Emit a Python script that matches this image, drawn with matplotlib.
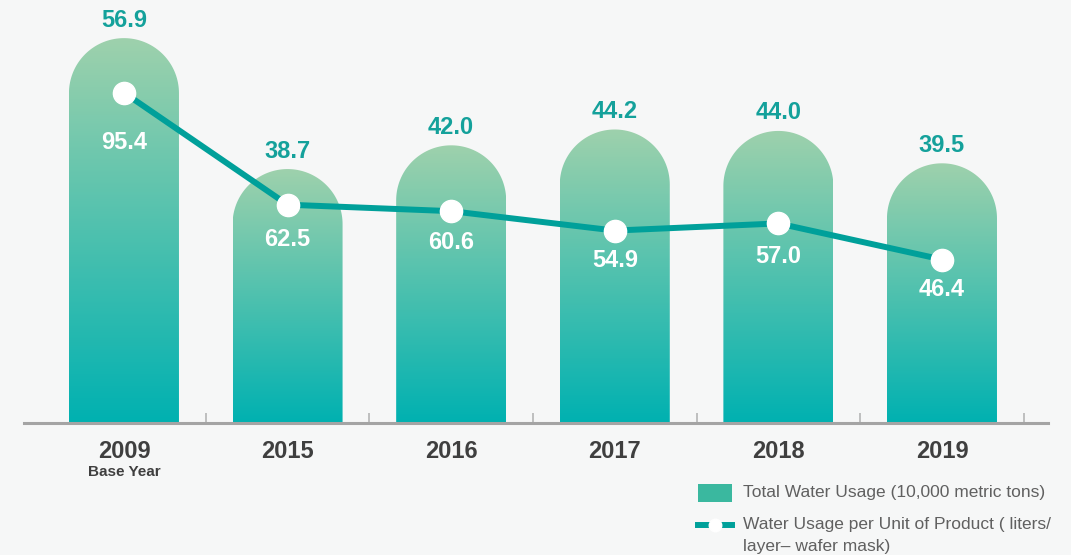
import numpy as np
import matplotlib
matplotlib.use('Agg')
import matplotlib.pyplot as plt
from matplotlib.path import Path
from matplotlib.patches import PathPatch, Rectangle
from matplotlib.lines import Line2D
from matplotlib.colors import LinearSegmentedColormap
from matplotlib.transforms import blended_transform_factory

# ---------------- data ----------------
years = ['2009', '2015', '2016', '2017', '2018', '2019']
total_usage = [56.9, 38.7, 42.0, 44.2, 44.0, 39.5]      # 10,000 metric tons
unit_usage = [95.4, 62.5, 60.6, 54.9, 57.0, 46.4]       # liters / layer-wafer mask
base_year_note = 'Base Year'
legend_labels = ['Total Water Usage (10,000 metric tons)',
                 'Water Usage per Unit of Product ( liters/',
                 'layer\u2013 wafer mask)']

# ---------------- style ----------------
plt.rcParams['font.family'] = ['Liberation Sans', 'DejaVu Sans']
W, H = 1071, 555
bg = '#f6f7f7'
teal_line = '#00a09a'
teal_text = '#14a19b'
year_color = '#3f3f3f'
legend_text = '#606060'
axis_gray = '#a4a4a4'
grad_top = '#9ed1ac'
grad_bot = '#00b1b1'
label_dy_px = [50, 35, 31, 30, 33, 30]   # white label offsets below points

fig = plt.figure(figsize=(W / 100, H / 100), dpi=100)
fig.patch.set_facecolor(bg)

ax_bottom_px = 423
ax = fig.add_axes([24 / W, 1 - ax_bottom_px / H, 1024 / W, ax_bottom_px / H])
ax.set_facecolor('none')
x = np.arange(len(years))
xlim = (-0.611, 5.648)
ylim = (3.4, 62.2)
ax.set_xlim(*xlim)
ax.set_ylim(*ylim)

# pixel scales
px_per_x = 1024 / (xlim[1] - xlim[0])
px_per_y = ax_bottom_px / (ylim[1] - ylim[0])
bw = 110 / px_per_x
rx = bw / 2
ry = (rx * px_per_x) / px_per_y

cmap = LinearSegmentedColormap.from_list('g', [grad_top, grad_bot])
grad = np.linspace(0, 1, 256).reshape(-1, 1)

for xi, v in zip(x, total_usage):
    x0, x1 = xi - rx, xi + rx
    yc = v - ry
    th = np.linspace(np.pi, 0, 80)
    verts = [(x0, ylim[0])] + [(xi + rx * np.cos(t), yc + ry * np.sin(t)) for t in th] + [(x1, ylim[0]), (x0, ylim[0])]
    codes = [Path.MOVETO] + [Path.LINETO] * (len(verts) - 2) + [Path.CLOSEPOLY]
    patch = PathPatch(Path(verts, codes), facecolor='none', edgecolor='none')
    ax.add_patch(patch)
    im = ax.imshow(grad, extent=[x0, x1, ylim[0], v], cmap=cmap, aspect='auto',
                   origin='upper', interpolation='bilinear', zorder=2)
    im.set_clip_path(patch)
    ax.annotate(f'{v:.1f}', xy=(xi, v), xytext=(0, 18 * 0.72), textcoords='offset points',
                ha='center', va='center', fontsize=17, fontweight='bold', color=teal_text)

ax.set_xlim(*xlim)
ax.set_ylim(*ylim)

for s in ['top', 'left', 'right']:
    ax.spines[s].set_visible(False)
ax.spines['bottom'].set_color(axis_gray)
ax.spines['bottom'].set_linewidth(2.2)
ax.set_yticks([])
ax.set_xticks(np.arange(len(years)) + 0.5)
ax.tick_params(axis='x', direction='in', length=7.5, width=1.2, colors='#b5b5b5', labelbottom=False)

trans = blended_transform_factory(ax.transData, ax.transAxes)
for xi, yr in zip(x, years):
    ax.annotate(yr, xy=(xi, 0), xycoords=trans, xytext=(0, -28 * 0.72), textcoords='offset points',
                ha='center', va='center', fontsize=17, fontweight='bold', color=year_color)
ax.annotate(base_year_note, xy=(x[0], 0), xycoords=trans, xytext=(0, -49 * 0.72), textcoords='offset points',
            ha='center', va='center', fontsize=11, fontweight='bold', color=year_color)

# secondary axis for the line
ax2 = ax.twinx()
ax2.set_ylim(-1.6, 122.6)
ax2.set_xlim(*xlim)
ax2.axis('off')
ax2.plot(x, unit_usage, color=teal_line, lw=4.3, solid_capstyle='round', zorder=3)
ax2.plot(x, unit_usage, linestyle='none', marker='o', markersize=16, markerfacecolor='white',
         markeredgecolor='white', zorder=4)
for xi, u, dy in zip(x, unit_usage, label_dy_px):
    ax2.annotate(f'{u:.1f}', xy=(xi, u), xytext=(0, -dy * 0.72), textcoords='offset points',
                 ha='center', va='center', fontsize=17, fontweight='bold', color='white', zorder=5)

# legend (manual)
fig.patches.append(Rectangle((698 / W, 1 - 502 / H), 34 / W, 18 / H, transform=fig.transFigure,
                             facecolor='#3ab89f', edgecolor='none'))
fig.text(743 / W, 1 - 493 / H, legend_labels[0], ha='left', va='center', fontsize=12.5, color=legend_text)
ly = 1 - 525 / H
fig.lines.append(Line2D([698 / W, 709 / W], [ly, ly], transform=fig.transFigure, color=teal_line, lw=4.3))
fig.lines.append(Line2D([721 / W, 732 / W], [ly, ly], transform=fig.transFigure, color=teal_line, lw=4.3))
fig.lines.append(Line2D([715 / W], [ly], transform=fig.transFigure, marker='o', markersize=9,
                        markerfacecolor='white', markeredgecolor='white', linestyle='none'))
fig.text(743 / W, ly, legend_labels[1], ha='left', va='center', fontsize=12.5, color=legend_text)
fig.text(743 / W, 1 - 546 / H, legend_labels[2], ha='left', va='center', fontsize=12.5, color=legend_text)

fig.savefig('out.png', dpi=100, facecolor=bg)
